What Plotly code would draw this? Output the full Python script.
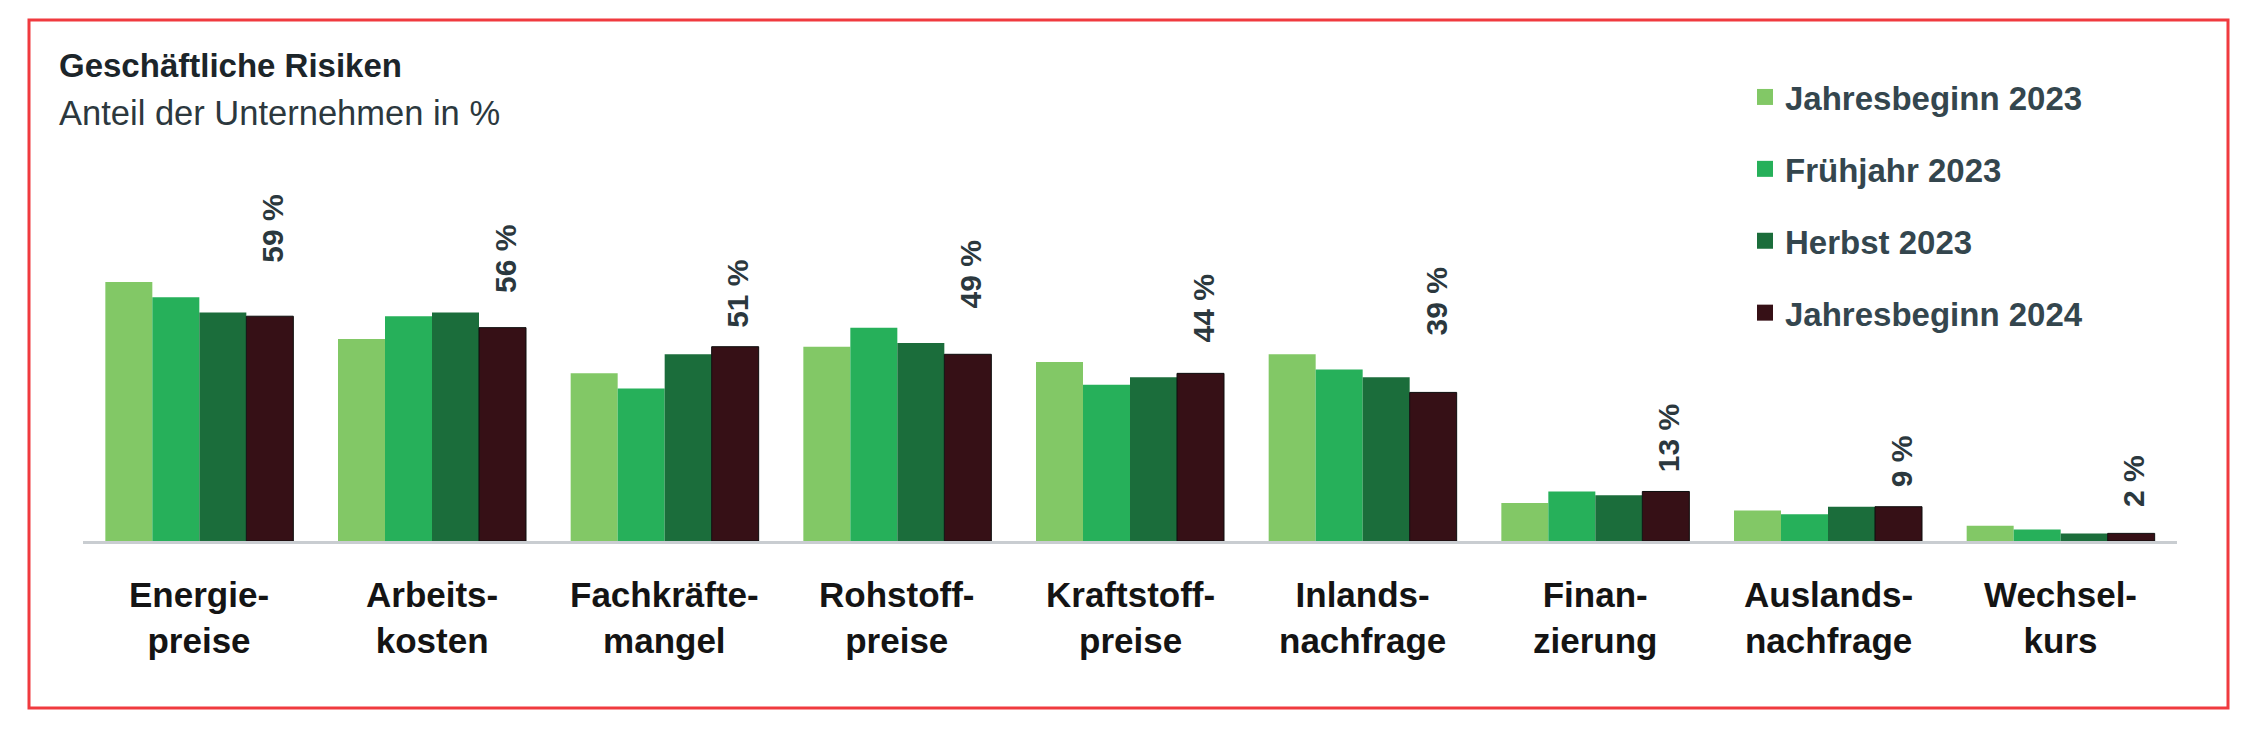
import plotly.graph_objects as go

# ---- data ----
categories = ["Energie-<br>preise", "Arbeits-<br>kosten", "Fachkräfte-<br>mangel",
              "Rohstoff-<br>preise", "Kraftstoff-<br>preise", "Inlands-<br>nachfrage",
              "Finan-<br>zierung", "Auslands-<br>nachfrage", "Wechsel-<br>kurs"]
series_names = ["Jahresbeginn 2023", "Frühjahr 2023", "Herbst 2023", "Jahresbeginn 2024"]
jahresbeginn_2023 = [68, 53, 44, 51, 47, 49, 10, 8, 4]
fruehjahr_2023 = [64, 59, 40, 56, 41, 45, 13, 7, 3]
herbst_2023 = [60, 60, 49, 52, 43, 43, 12, 9, 2]
jahresbeginn_2024 = [59, 56, 51, 49, 44, 39, 13, 9, 2]
value_labels = ["59 %", "56 %", "51 %", "49 %", "44 %", "39 %", "13 %", "9 %", "2 %"]

series_values = [jahresbeginn_2023, fruehjahr_2023, herbst_2023, jahresbeginn_2024]
colors = ["#82c866", "#26b05a", "#1b6d3b", "#361016"]
line_colors = ["#82c866", "#26b05a", "#1b6d3b", "#0d0d0d"]

# page body has an 8px margin -> figure placed at (8, 8) in the window
OFF = 8
W, H = 2250 - OFF, 730 - OFF
ML, MR, MT, MB = 83 - OFF, 73, 141 - OFF, 189
plot_w = W - ML - MR
plot_h = H - MT - MB
px_per_pct = 3.81
bargap = 0.192
FONT = "Liberation Sans, Arial, sans-serif"


def px_x(X):
    return (X - OFF - ML) / plot_w


def px_y(Y):
    return (H - MB - (Y - OFF)) / plot_h


x_idx = list(range(len(categories)))

fig = go.Figure()
for name, vals, c, lc in zip(series_names, series_values, colors, line_colors):
    fig.add_trace(go.Bar(
        x=x_idx, y=vals, name=name, marker_color=c,
        marker_line_color=lc, marker_line_width=1 if lc != c else 0,
        showlegend=False, hoverinfo="skip"))

# legend entries (square markers)
for i, (name, c) in enumerate(zip(series_names, colors)):
    fig.add_trace(go.Scatter(
        x=[None], y=[None], mode="markers", name=f"<b>{name}</b>", legendgroup=f"g{i}",
        marker=dict(symbol="square", size=16, color=c)))

annotations = []
# title / subtitle
annotations.append(dict(text="<b>Geschäftliche Risiken</b>", xref="paper", yref="paper",
                        x=px_x(57), y=px_y(65), xanchor="left", yanchor="middle", showarrow=False,
                        font=dict(family=FONT, size=33, color="#1c252a")))
annotations.append(dict(text="Anteil der Unternehmen in %", xref="paper", yref="paper",
                        x=px_x(57), y=px_y(113), xanchor="left", yanchor="middle", showarrow=False,
                        font=dict(family=FONT, size=34.5, color="#2c383e")))

# category labels (two-line, one text each)
for i, cat in enumerate(categories):
    annotations.append(dict(text=f"<b>{cat}</b>", xref="x", yref="paper", x=i, y=0,
                            yshift=-76, xanchor="center", yanchor="middle", align="center",
                            showarrow=False,
                            font=dict(family=FONT, size=35, color="#141414")))

# value labels above last series
bar_w = (1 - bargap) / 4
for i, lab in enumerate(value_labels):
    top = max(v[i] for v in series_values)
    annotations.append(dict(text=f"<b>{lab}</b>", xref="x", yref="y",
                            x=i + bar_w * 1.5, y=top, yshift=17, xshift=3,
                            textangle=-90, xanchor="center", yanchor="bottom",
                            showarrow=False,
                            font=dict(family=FONT, size=30, color="#2b383e")))

fig.update_layout(
    width=W, height=H,
    margin=dict(l=ML, r=MR, t=MT, b=MB, pad=0),
    paper_bgcolor="white", plot_bgcolor="white",
    barmode="group", bargap=bargap, bargroupgap=0,
    xaxis=dict(range=[-0.5, len(categories) - 0.5], showticklabels=False, ticks="",
               showgrid=False, zeroline=False, showline=True,
               linecolor="#c9cdd1", linewidth=3, fixedrange=True),
    yaxis=dict(range=[0, plot_h / px_per_pct], visible=False, showgrid=False,
               zeroline=False, fixedrange=True),
    legend=dict(x=px_x(1745), y=px_y(69), xanchor="left", yanchor="top", tracegroupgap=26,
                font=dict(family=FONT, size=33, color="#34464e"),
                bgcolor="rgba(0,0,0,0)", itemclick=False, itemdoubleclick=False),
    showlegend=True,
    annotations=annotations,
    shapes=[dict(type="rect", xref="paper", yref="paper",
                 x0=px_x(29), x1=px_x(2228), y0=px_y(708), y1=px_y(20),
                 line=dict(color="#f03a3f", width=3), fillcolor="rgba(0,0,0,0)", layer="below")],
)

fig.write_html("out.html")
